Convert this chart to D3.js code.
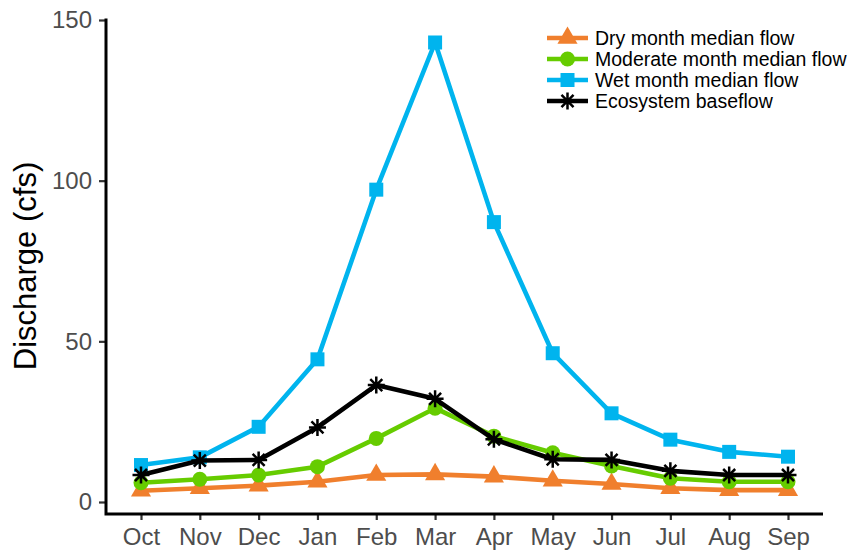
<!DOCTYPE html>
<html><head><meta charset="utf-8">
<script src="https://cdn.jsdelivr.net/npm/d3@7"></script>
<style>body{margin:0;background:#fff}svg{display:block}</style>
</head><body>
<svg id="c" width="862" height="550"></svg>
<script>
const months = ["Oct","Nov","Dec","Jan","Feb","Mar","Apr","May","Jun","Jul","Aug","Sep"];
const dryFlow = [3.5,4.3,5.1,6.3,8.4,8.6,7.9,6.6,5.6,4.3,3.7,3.7];
const moderateFlow = [6.0,7.1,8.4,11.0,19.8,29.2,20.5,15.3,11.2,7.4,6.3,6.3];
const wetFlow = [11.5,13.9,23.4,44.4,97.2,143.0,87.1,46.3,27.6,19.4,15.6,14.1];
const ecoBaseflow = [8.4,12.9,13.1,23.2,36.4,32.1,19.5,13.3,13.1,9.7,8.4,8.4];
const yTicks = [0,50,100,150];
const seriesNames = ["Dry month median flow","Moderate month median flow","Wet month median flow","Ecosystem baseflow"];

const series = [
  {name: seriesNames[0], values: dryFlow, color: "#F07F2D", shape: "triangle"},
  {name: seriesNames[1], values: moderateFlow, color: "#66CC00", shape: "circle"},
  {name: seriesNames[2], values: wetFlow, color: "#00B4EE", shape: "square"},
  {name: seriesNames[3], values: ecoBaseflow, color: "#000000", shape: "asterisk"}
];

const FONT = "'Liberation Sans', Arial, sans-serif";
const svg = d3.select("#c");
const x = d3.scalePoint().domain(months).range([141, 788]);
const y = d3.scaleLinear().domain([0, 150]).range([502, 20]);
const yBottom = 514, xLeft = 106, xRight = 823;

// axes
const yAxis = svg.append("g").attr("transform", `translate(${xLeft},0)`)
  .call(d3.axisLeft(y).tickValues(yTicks).tickSize(7).tickPadding(7));
yAxis.select(".domain").remove();
yAxis.selectAll("line").attr("stroke", "#333").attr("stroke-width", 2.2);
yAxis.selectAll("text").attr("fill", "#4D4D4D").style("font", `24px ${FONT}`);

const xAxis = svg.append("g").attr("transform", `translate(0,${yBottom})`)
  .call(d3.axisBottom(x).tickSize(6).tickPadding(8));
xAxis.select(".domain").remove();
xAxis.selectAll("line").attr("stroke", "#333").attr("stroke-width", 2.2);
xAxis.selectAll("text").attr("fill", "#4D4D4D").style("font", `24px ${FONT}`);

svg.append("path").attr("d", `M${xLeft},${y(150)-1.5}V${yBottom}H${xRight}`)
  .attr("fill", "none").attr("stroke", "#000").attr("stroke-width", 3);

svg.append("text").attr("transform", "translate(36,266) rotate(-90)")
  .attr("text-anchor", "middle").attr("fill", "#000")
  .style("font", `31px ${FONT}`).text("Discharge (cfs)");

function drawMarker(g, shape, color, cx, cy) {
  if (shape === "triangle") {
    g.append("path").attr("d", d3.symbol(d3.symbolTriangle, 175)()).attr("transform", `translate(${cx},${cy})`).attr("fill", color);
  } else if (shape === "circle") {
    g.append("circle").attr("cx", cx).attr("cy", cy).attr("r", 7.5).attr("fill", color);
  } else if (shape === "square") {
    g.append("rect").attr("x", cx - 7).attr("y", cy - 7).attr("width", 14).attr("height", 14).attr("fill", color);
  } else {
    const r = 8.5, d = r * 0.7071;
    g.append("path").attr("d", `M${cx-r},${cy}H${cx+r}M${cx},${cy-r}V${cy+r}M${cx-d},${cy-d}L${cx+d},${cy+d}M${cx-d},${cy+d}L${cx+d},${cy-d}`)
      .attr("stroke", color).attr("stroke-width", 2.5).attr("fill", "none");
  }
}

const line = d3.line().x((d, i) => x(months[i])).y(d => y(d));
series.forEach(s => {
  const g = svg.append("g");
  g.append("path").attr("d", line(s.values)).attr("fill", "none").attr("stroke", s.color).attr("stroke-width", 4.6).attr("stroke-linejoin", "round");
  s.values.forEach((v, i) => drawMarker(g, s.shape, s.color, x(months[i]), y(v)));
});

// legend
const lg = svg.append("g");
series.forEach((s, i) => {
  const cy = 38 + i * 21;
  lg.append("line").attr("x1", 547).attr("x2", 588).attr("y1", cy).attr("y2", cy).attr("stroke", s.color).attr("stroke-width", 4.6);
  drawMarker(lg, s.shape, s.color, 567.5, cy);
  lg.append("text").attr("x", 595).attr("y", cy + 7).attr("fill", "#000")
    .style("font", `19.5px ${FONT}`).text(s.name);
});
</script>
</body></html>
